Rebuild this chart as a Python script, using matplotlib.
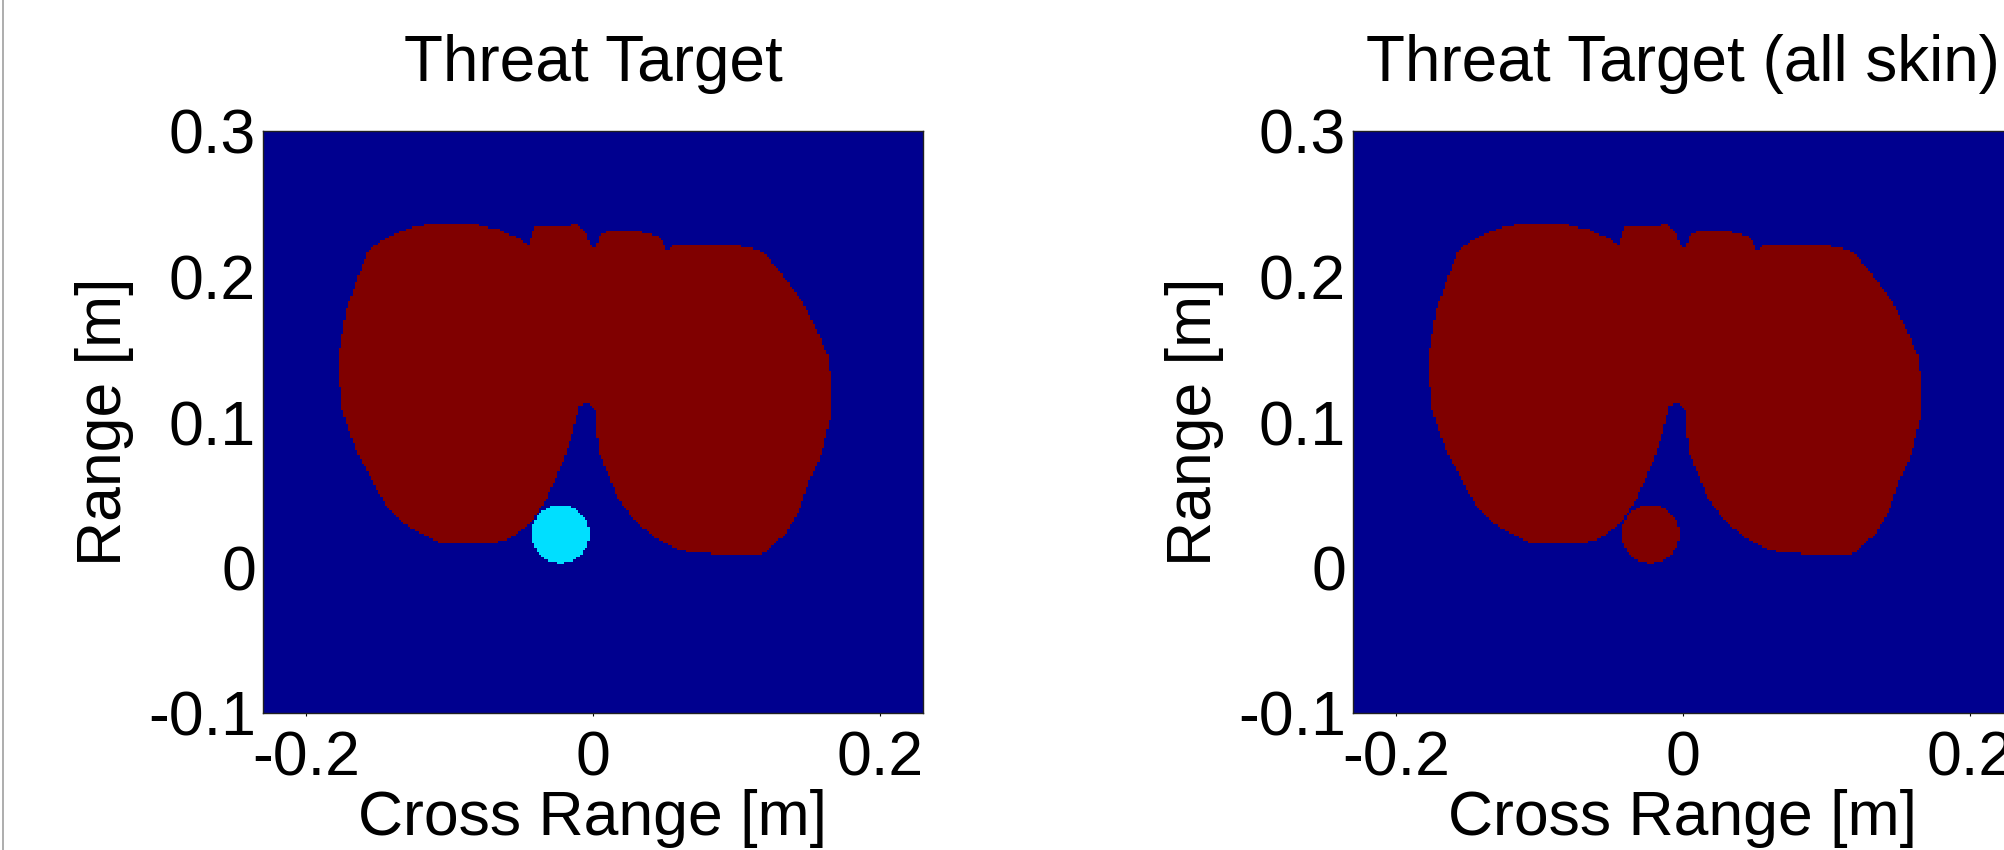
import numpy as np
import matplotlib
matplotlib.use('Agg')
import matplotlib.pyplot as plt
from matplotlib.colors import ListedColormap
from matplotlib.path import Path
from matplotlib.lines import Line2D

# outline of the body (skin) region, cross range / range in metres
lung_x = [-0.1244, -0.1097, -0.0859, -0.0656, -0.0523, -0.0463, -0.0448,
          -0.0416, -0.0393, -0.0114, -0.0055, -0.0029, 0.0002, 0.0049,
          0.0092, 0.0306, 0.0466, 0.0517, 0.0550, 0.0787, 0.1000, 0.1075,
          0.1187, 0.1326, 0.1445, 0.1563, 0.1633, 0.1655, 0.1655, 0.1606,
          0.1560, 0.1500, 0.1423, 0.1340, 0.1236, 0.1166, 0.0960, 0.0610,
          0.0420, 0.0280, 0.0165, 0.0070, 0.0038, 0.0025, 0.0012, -0.0015,
          -0.0068, -0.0105, -0.0140, -0.0209, -0.0320, -0.0440, -0.0580,
          -0.0698, -0.1068, -0.1160, -0.1326, -0.1438, -0.1543, -0.1660,
          -0.1745, -0.1770, -0.1770, -0.1720, -0.1638, -0.1564, -0.1484,
          -0.1377]
lung_y = [0.2342, 0.2366, 0.2366, 0.2320, 0.2262, 0.2228, 0.2216,
          0.2331, 0.2342, 0.2354, 0.2297, 0.2239, 0.2182, 0.2285,
          0.2315, 0.2315, 0.2269, 0.2170, 0.2210, 0.2215, 0.2210, 0.2205,
          0.2161, 0.1997, 0.1838, 0.1612, 0.1447, 0.1268, 0.1060, 0.0856,
          0.0720, 0.0600, 0.0375, 0.0237, 0.0140, 0.0086, 0.0083, 0.0115,
          0.0210, 0.0326, 0.0485, 0.0718, 0.0785, 0.0922, 0.1082, 0.1117,
          0.1133, 0.1100, 0.0945, 0.0739, 0.0486, 0.0305, 0.0200,
          0.0170, 0.0170, 0.0210, 0.0305, 0.0417, 0.0600, 0.0830,
          0.1060, 0.1289, 0.1472, 0.1770, 0.1999, 0.2182, 0.2239,
          0.2297]

# spherical threat object
threat_x = -0.023
threat_y = 0.023
threat_r = 0.020

# material codes: 0 background, 1 threat, 2 skin
titles = ['Threat Target', 'Threat Target (all skin)']
threat_codes = [1, 2]

x_ticks = [-0.2, 0, 0.2]
x_ticklabels = ['-0.2', '0', '0.2']
y_ticks = [-0.1, 0, 0.1, 0.2, 0.3]
y_ticklabels = ['-0.1', '0', '0.1', '0.2', '0.3']


def build_scene(threat_code, step=0.0016):
    """
    Rasterise the body outline and the threat sphere onto a grid
    """
    xs = np.arange(-0.23 + step / 2, 0.23, step)
    ys = np.arange(-0.1 + step / 2, 0.3, step)
    gx, gy = np.meshgrid(xs, ys)
    pts = np.column_stack([gx.ravel(), gy.ravel()])

    body = Path(np.column_stack([lung_x, lung_y])).contains_points(pts)
    scene = np.where(body.reshape(gx.shape), 2, 0)
    inside = (gx - threat_x) ** 2 + (gy - threat_y) ** 2 <= threat_r ** 2
    scene[inside] = threat_code
    return scene


def main():
    plt.rcParams['font.family'] = ['Liberation Sans', 'DejaVu Sans']
    plt.rcParams['font.size'] = 45
    plt.rcParams['axes.unicode_minus'] = False

    cmap = ListedColormap(['#00008F', '#00DFFF', '#800000'])

    fig = plt.figure(figsize=(20.04, 8.5), dpi=100)
    lefts = [263 / 2004, 1353 / 2004]

    for left, title, code in zip(lefts, titles, threat_codes):
        ax = fig.add_axes([left, 137 / 850, 660 / 2004, 582 / 850])
        ax.imshow(build_scene(code), cmap=cmap, vmin=0, vmax=2,
                  origin='lower', extent=[-0.23, 0.23, -0.1, 0.3],
                  interpolation='nearest', aspect='auto')
        ax.set_xlim(-0.23, 0.23)
        ax.set_ylim(-0.1, 0.3)
        ax.set_xticks(x_ticks)
        ax.set_xticklabels(x_ticklabels)
        ax.set_yticks(y_ticks)
        ax.set_yticklabels(y_ticklabels)
        ax.tick_params(axis='x', direction='out', length=2, width=0.8, pad=10)
        ax.tick_params(axis='y', length=0, pad=5)
        for sp in ax.spines.values():
            sp.set_linewidth(1)
            sp.set_color('#202020')
        ax.set_title(title, fontsize=46, pad=36)
        ax.set_xlabel('Cross Range [m]', labelpad=0)
        ax.set_ylabel('Range [m]', labelpad=10)

    # thin frame line on the left edge of the figure
    fig.add_artist(Line2D([2.5 / 2004, 2.5 / 2004], [0, 1], color='#a0a0a0',
                          lw=1.2, transform=fig.transFigure))

    fig.savefig('out.png', dpi=100)
    plt.close(fig)


if __name__ == "__main__":
    main()
